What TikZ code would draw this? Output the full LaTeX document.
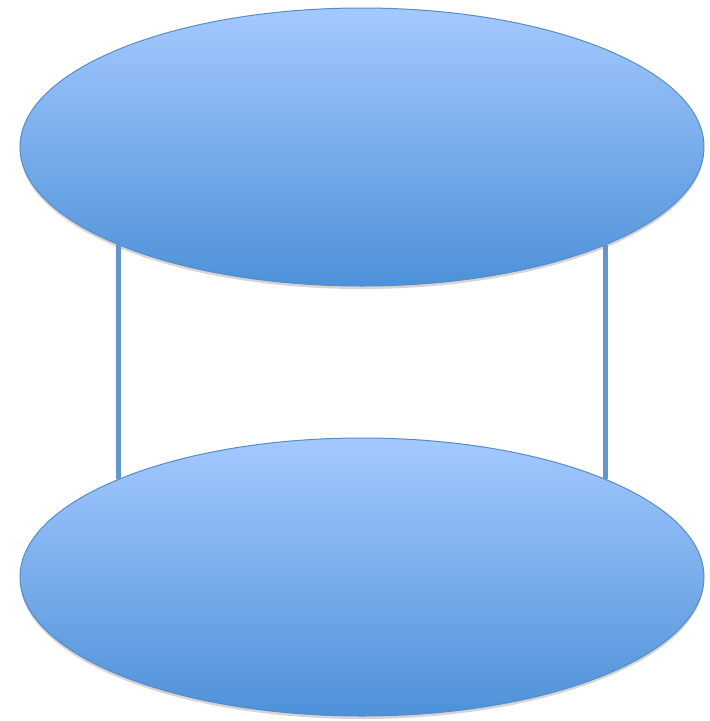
\documentclass[tikz,border=0pt]{standalone}
\usepackage{xcolor}
\usepackage{tikz}
\usetikzlibrary{shapes, shadows, positioning}
\definecolor{discTop}{RGB}{164, 201, 255}
\definecolor{discBottom}{RGB}{78, 145, 216}
\definecolor{discBorder}{RGB}{86, 140, 200}
\definecolor{postBlue}{RGB}{99, 150, 202}

\begin{document}
\begin{tikzpicture}[x=1pt, y=-1pt,
    disc/.style={ellipse, draw=discBorder, line width=1pt,
        top color=discTop, bottom color=discBottom,
        minimum width=684pt, minimum height=278pt, inner sep=0pt,
        drop shadow={shadow xshift=0pt, shadow yshift=-3pt, opacity=0.3, fill=black!55}},
    post/.style={postBlue, line width=5pt}]
    \useasboundingbox (0,0) rectangle (710,721);
    \node[disc] (upper) at (362,147) {};
    \node[disc] (lower) at (362,577) {};
    \draw[post] (upper.202) -- (lower.158);
    \draw[post] (upper.338) -- (lower.22);
\end{tikzpicture}
\end{document}
